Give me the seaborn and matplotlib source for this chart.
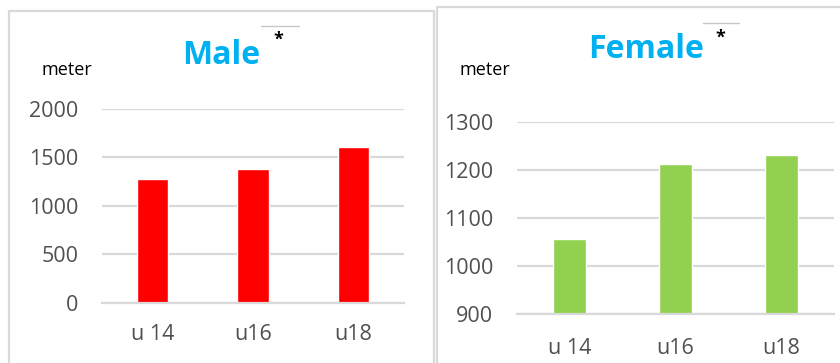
import matplotlib
matplotlib.use("Agg")
import matplotlib.pyplot as plt
from matplotlib.lines import Line2D
import seaborn as sns
import pandas as pd

# Age groups and average distances (meters)
groups = ["u 14", "u16", "u18"]
male_m = [1272, 1378, 1605]
female_m = [1056, 1212, 1231]

male_ticks = [0, 500, 1000, 1500, 2000]
female_ticks = [900, 1000, 1100, 1200, 1300]

sns.set_theme(style="white")
plt.rcParams["font.family"] = ["Open Sans", "DejaVu Sans"]

W, H = 840, 363
fig = plt.figure(figsize=(W / 100, H / 100), dpi=100)

GRID = "#d9d9d9"
TXT = "#505050"
TITLE = "#00b0f0"


def px_box(x0, x1, ytop, ybot):
    return [x0 / W, 1 - ybot / H, (x1 - x0) / W, (ybot - ytop) / H]


def panel(rect, values, color, ticks, title, title_xy, star_xy, line_x, line_y,
          meter_xy, ylabel_pad, xlabel_pad):
    ax = fig.add_axes(rect)
    df = pd.DataFrame({"group": groups, "meters": values})
    sns.barplot(data=df, x="group", y="meters", color=color, width=0.31,
                saturation=1, ax=ax, zorder=3)
    ax.set_ylim(ticks[0], ticks[-1])
    ax.set_xlim(-0.5, len(groups) - 0.5)
    ax.set_yticks(ticks)
    ax.yaxis.grid(True, color=GRID, linewidth=1.6, zorder=0)
    ax.set_axisbelow(True)
    for s in ("left", "right", "top"):
        ax.spines[s].set_visible(False)
    ax.spines["bottom"].set_color(GRID)
    ax.spines["bottom"].set_linewidth(1.6)
    ax.spines["bottom"].set_zorder(4)
    ax.set_xlabel("")
    ax.set_ylabel("")
    ax.tick_params(axis="y", length=0, pad=ylabel_pad, labelsize=15.5, labelcolor=TXT)
    ax.tick_params(axis="x", which="major", length=0, pad=xlabel_pad, labelsize=15.5,
                   labelcolor=TXT)
    ax.set_xticks([i - 0.5 for i in range(len(groups) + 1)], minor=True)
    ax.tick_params(axis="x", which="minor", length=7, width=1.6, color=GRID, direction="out")
    ax.patch.set_alpha(0)

    fig.text(title_xy[0] / W, 1 - title_xy[1] / H, title, ha="center", va="center",
             fontsize=23, fontweight="bold", color=TITLE)
    fig.text(star_xy[0] / W, 1 - star_xy[1] / H, "*", ha="center", va="center",
             fontsize=13, fontweight="bold", color="black")
    fig.add_artist(Line2D([line_x[0] / W, line_x[1] / W], [1 - line_y / H] * 2,
                          color="#c8c8c8", linewidth=1.0))
    fig.text(meter_xy[0] / W, 1 - meter_xy[1] / H, "meter", ha="center", va="center",
             fontsize=13, color="black")
    return ax


# Panel frames
def frame(x0, x1, ytop):
    xs = [x0 / W, x0 / W, x1 / W]
    ys = [-0.01, 1 - ytop / H, 1 - ytop / H]
    fig.add_artist(Line2D(xs, ys, color=GRID, linewidth=1.6))


frame(8.5, 434, 10.5)
fig.add_artist(Line2D([433.5 / W] * 2, [-0.01, 1 - 10.5 / H], color=GRID, linewidth=1.6))
frame(436.5, 842, 6.5)

panel(px_box(102, 404, 108.7, 302.7), male_m, "#ff0000", male_ticks,
      "Male", (221, 55), (278, 40), (261, 299), 25.5, (67, 70), 17, 15)
panel(px_box(517, 834, 122, 314), female_m, "#92d050", female_ticks,
      "Female", (646, 50), (720, 38), (703, 739), 22.5, (485, 70), 17, 17)

fig.savefig("out.png", dpi=100)
